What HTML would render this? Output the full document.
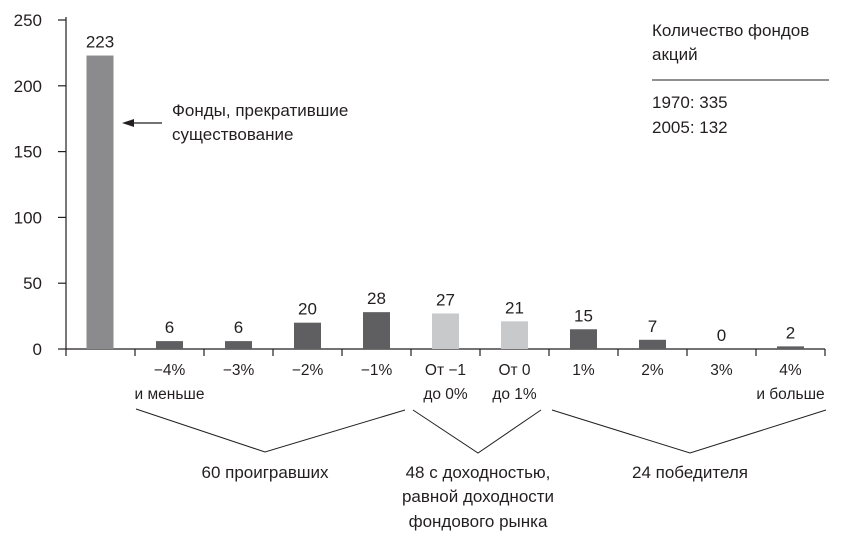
<!DOCTYPE html>
<html><head><meta charset="utf-8"><style>
body{margin:0;background:#fff;}
svg text{font-family:"Liberation Sans","DejaVu Sans",sans-serif;fill:#231f20;}
</style></head><body>
<svg id="chart" width="842" height="540" viewBox="0 0 842 540" xmlns="http://www.w3.org/2000/svg">
<g id="axes"></g><g id="bars"></g><g id="labels"></g>
<g>
<text x="652" y="36" font-size="17">Количество фондов</text>
<text x="652" y="60" font-size="17">акций</text>
<line x1="652" y1="80" x2="829" y2="80" stroke="#231f20" stroke-width="1"/>
<text x="652" y="108" font-size="17">1970: 335</text>
<text x="652" y="133" font-size="17">2005: 132</text>
</g>
<g>
<line x1="132" y1="123" x2="162" y2="123" stroke="#231f20" stroke-width="1.2"/>
<polygon points="122,123 134,119 134,127" fill="#231f20"/>
<text x="172" y="116" font-size="17">Фонды, прекратившие</text>
<text x="172" y="140" font-size="17">существование</text>
</g>
<g fill="none" stroke="#231f20" stroke-width="1">
<polyline points="136,409 265,452 405,410"/>
<polyline points="413,410 478,453 541,410"/>
<polyline points="552,410 690,453 826,410"/>
</g>
<g font-size="17">
<text x="265" y="478" text-anchor="middle">60 проигравших</text>
<text x="478" y="478" text-anchor="middle">48 с доходностью,</text>
<text x="478" y="502" text-anchor="middle">равной доходности</text>
<text x="478" y="527" text-anchor="middle">фондового рынка</text>
<text x="690" y="478" text-anchor="middle">24 победителя</text>
</g>
</svg>
<script>
const categories=["", "−4%|и меньше","−3%","−2%","−1%","От −1|до 0%","От 0|до 1%","1%","2%","3%","4%|и больше"];
const values=[223,6,6,20,28,27,21,15,7,0,2];
const colorKeys=["closed","loss","loss","loss","loss","market","market","win","win","win","win"];
const yTicks=[0,50,100,150,200,250];
const colors={closed:"#8b8b8e",loss:"#5f5f62",market:"#c8c9cb",win:"#5f5f62"};
const ns="http://www.w3.org/2000/svg";
const x0=66,slot=69,y0=349,ppu=329/250,bw=27;
const xC=i=>x0+slot*i+slot/2;
const yS=v=>y0-v*ppu;
function mk(tag,attrs,parent,txt){const e=document.createElementNS(ns,tag);for(const k in attrs)e.setAttribute(k,attrs[k]);if(txt!==undefined)e.textContent=txt;document.getElementById(parent).appendChild(e);return e;}
let e=mk("line",{x1:x0,y1:yS(250)-3,x2:x0,y2:y0+7,stroke:"#231f20","stroke-width":1.2},"axes");


e=mk("line",{x1:x0,y1:y0,x2:x0+slot*categories.length,y2:y0,stroke:"#231f20","stroke-width":1.2},"axes");


yTicks.forEach(t=>{
 e=mk("line",{x1:x0-8,y1:yS(t),x2:x0,y2:yS(t),stroke:"#231f20","stroke-width":1.2},"axes");
 
 
 e=mk("text",{x:x0-24,y:yS(t)+6,"font-size":17,"text-anchor":"end"},"axes",t);
 
 
});
for(let i=1;i<=categories.length;i++){
 e=mk("line",{x1:x0+slot*i,y1:y0,x2:x0+slot*i,y2:y0+7,stroke:"#231f20","stroke-width":1.2},"axes");
 
 
}
values.forEach((v,i)=>{
 const cx=i===0?100:xC(i);
 e=mk("rect",{x:cx-bw/2,y:yS(v),width:bw,height:v*ppu,fill:colors[colorKeys[i]]},"bars");
 
 
 e=mk("text",{x:cx,y:yS(v)-8,"font-size":17,"text-anchor":"middle"},"labels",v);
 
 
 const lines=categories[i].split("|");
 lines.forEach((l,j)=>{
  if(!l)return;
  e=mk("text",{x:cx,y:375+j*24,"font-size":15.5,"text-anchor":"middle"},"labels",l);
  
  
 });
});
</script>
</body></html>
